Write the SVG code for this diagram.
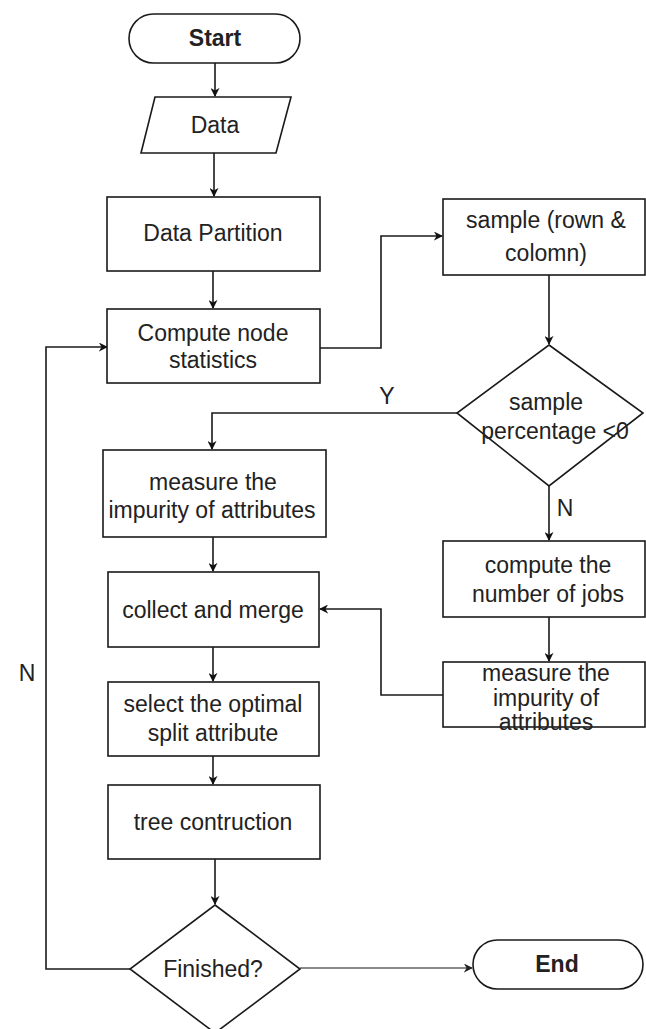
<svg xmlns="http://www.w3.org/2000/svg" width="646" height="1029" viewBox="0 0 646 1029">
<defs>
<marker id="ah" viewBox="0 0 10 10" refX="9" refY="5" markerWidth="9" markerHeight="9" markerUnits="userSpaceOnUse" orient="auto">
<path d="M0,0 L10,5 L0,10 L3,5 Z" fill="#111"/>
</marker>
<marker id="ahg" viewBox="0 0 10 10" refX="9" refY="5" markerWidth="9" markerHeight="9" markerUnits="userSpaceOnUse" orient="auto">
<path d="M0,0 L10,5 L0,10 L3,5 Z" fill="#222"/>
</marker>
<style>
.s{fill:#fff;stroke:#1a1a1a;stroke-width:1.6}
.t{font-family:"Liberation Sans",Arial,sans-serif;font-size:23px;fill:#222;text-anchor:middle;dominant-baseline:central}
.b{font-weight:bold}
.c{fill:none;stroke:#1a1a1a;stroke-width:1.6}
.g{fill:none;stroke:#8a8a8a;stroke-width:2}
</style>
</defs>
<rect width="646" height="1029" fill="#fff"/>
<g id="connectors">
<path class="c" d="M215,63 V96" marker-end="url(#ah)"/>
<path class="c" d="M214,153 V196" marker-end="url(#ah)"/>
<path class="c" d="M213,271 V308" marker-end="url(#ah)"/>
<path class="c" d="M320,348 H381 V236 H442" marker-end="url(#ah)"/>
<path class="c" d="M549,275 V344" marker-end="url(#ah)"/>
<path class="c" d="M457,413 H212 V449" marker-end="url(#ah)"/>
<path class="c" d="M549,486 V540" marker-end="url(#ah)"/>
<path class="c" d="M213,537 V571" marker-end="url(#ah)"/>
<path class="c" d="M213,647 V681" marker-end="url(#ah)"/>
<path class="c" d="M213,756 V784" marker-end="url(#ah)"/>
<path class="c" d="M215,859 V904" marker-end="url(#ah)"/>
<path class="c" d="M549,617 V661" marker-end="url(#ah)"/>
<path class="c" d="M443,695 H381 V609 H320" marker-end="url(#ah)"/>
<path class="c" d="M130,969 H46 V347 H107" marker-end="url(#ah)"/>
<path class="g" d="M300,968 H472" marker-end="url(#ahg)"/>
<text class="t" x="387" y="396">Y</text>
<text class="t" x="565" y="508">N</text>
<text class="t" x="27" y="673">N</text>
</g>
<g id="start">
<rect class="s" x="129" y="14" width="171" height="49" rx="24.5"/>
<text class="t b" x="215" y="38">Start</text>
</g>
<g id="data">
<polygon class="s" points="155,97 291,97 276,153 141,153"/>
<text class="t" x="215" y="125">Data</text>
</g>
<g id="partition">
<rect class="s" x="107" y="197" width="213" height="74"/>
<text class="t" x="213" y="233">Data Partition</text>
</g>
<g id="compute">
<rect class="s" x="107" y="309" width="213" height="74"/>
<text class="t" x="213" y="333">Compute node</text>
<text class="t" x="213" y="360">statistics</text>
</g>
<g id="sample">
<rect class="s" x="443" y="199" width="202" height="76"/>
<text class="t" x="546" y="220">sample (rown &amp;</text>
<text class="t" x="546" y="253">colomn)</text>
</g>
<g id="decision">
<polygon class="s" points="549,345 643,413 549,486 457,413"/>
<text class="t" x="546" y="402">sample</text>
<text class="t" x="555" y="431">percentage &lt;0</text>
</g>
<g id="measure-left">
<rect class="s" x="103" y="450" width="223" height="87"/>
<text class="t" x="213" y="482">measure the</text>
<text class="t" x="212" y="510">impurity of attributes</text>
</g>
<g id="jobs">
<rect class="s" x="443" y="541" width="202" height="76"/>
<text class="t" x="548" y="565">compute the</text>
<text class="t" x="548" y="594">number of jobs</text>
</g>
<g id="measure-right">
<rect class="s" x="443" y="662" width="202" height="65"/>
<text class="t" x="546" y="673">measure the</text>
<text class="t" x="546" y="698">impurity of</text>
<text class="t" x="546" y="722">attributes</text>
</g>
<g id="collect">
<rect class="s" x="108" y="572" width="211" height="75"/>
<text class="t" x="213" y="610">collect and merge</text>
</g>
<g id="select">
<rect class="s" x="108" y="682" width="211" height="74"/>
<text class="t" x="213" y="704">select the optimal</text>
<text class="t" x="213" y="733">split attribute</text>
</g>
<g id="tree">
<rect class="s" x="108" y="785" width="212" height="74"/>
<text class="t" x="213" y="822">tree contruction</text>
</g>
<g id="finished">
<polygon class="s" points="215,905 300,969 215,1033 130,969"/>
<text class="t" x="213" y="969">Finished?</text>
</g>
<g id="end">
<rect class="s" x="473" y="940" width="170" height="49" rx="24.5"/>
<text class="t b" x="557" y="964">End</text>
</g>
</svg>
